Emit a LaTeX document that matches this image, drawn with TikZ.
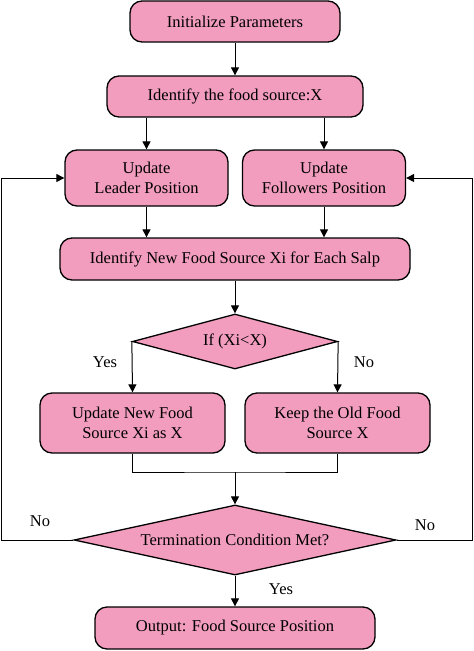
\documentclass[tikz,border=0pt]{standalone}
\usepackage{fontspec}
\setmainfont{Liberation Serif}
\usetikzlibrary{shapes,arrows,positioning,calc,arrows.meta}
\definecolor{salppink}{RGB}{242,157,190}

\begin{document}
\begin{tikzpicture}[x=1pt, y=-1pt,
    box/.style={draw, line width=1.3pt, fill=salppink, rounded corners=12pt, align=center,
        inner sep=0pt, font=\fontsize{16.5}{20}\selectfont},
    decision/.style={draw, line width=1.3pt, fill=salppink, diamond, inner sep=0pt,
        font=\fontsize{16.5}{20}\selectfont},
    arrow/.style={line width=1pt, -{Triangle[width=8pt,length=8pt]}},
    line/.style={line width=1pt},
    lab/.style={font=\fontsize{16.5}{20}\selectfont}]
    \useasboundingbox (0,0) rectangle (474,651);

    % boxes
    \node [box, minimum width=210pt, minimum height=41pt] (init) at (235,21.5) {Initialize Parameters};
    \node [box, minimum width=256pt, minimum height=41pt] (ident) at (235,96.5) {Identify the food source:X};
    \node [box, minimum width=163pt, minimum height=56pt] (leader) at (146.5,178) {Update\\Leader Position};
    \node [box, minimum width=163pt, minimum height=56pt] (follow) at (324,178) {Update\\Followers Position};
    \node [box, minimum width=350pt, minimum height=42pt] (newsrc) at (235,259) {Identify New Food Source Xi for Each Salp};
    \node [decision, shape aspect=3.7, minimum width=205pt, minimum height=55pt] (cond) at (235,341.5) {If (Xi<X)};
    \node [box, minimum width=185pt, minimum height=60pt] (upd) at (132.5,423) {Update New Food\\Source Xi as X};
    \node [box, minimum width=185pt, minimum height=60pt] (keep) at (337.5,423) {Keep the Old Food\\Source X};
    \node [decision, shape aspect=4.6, minimum width=322pt, minimum height=70pt] (term) at (235,540) {Termination Condition Met?};
    \node [box, minimum width=280pt, minimum height=42pt] (out) at (235,628) {Output: Food Source Position};

    % helper points
    \coordinate (merge) at (235,472);
    \coordinate (lloop) at (1,540);
    \coordinate (rloop) at (472.5,540);

    % connectors
    \draw [arrow] (init) -- (ident);
    \draw [arrow] (ident.south -| leader.north) -- (leader.north);
    \draw [arrow] (ident.south -| follow.north) -- (follow.north);
    \draw [arrow] (leader.south) -- (newsrc.north -| leader.south);
    \draw [arrow] (follow.south) -- (newsrc.north -| follow.south);
    \draw [arrow] (newsrc) -- (cond);
    \draw [arrow] (cond.west) -- (upd.north);
    \draw [arrow] (cond.east) -- (keep.north);
    \draw [line] (upd.south) |- (merge) -| (keep.south);
    \draw [arrow] (merge) -- (term.north);
    \draw [arrow] (term.west) -- (lloop) |- (leader.west);
    \draw [arrow] (term.east) -- (rloop) |- (follow.east);
    \draw [arrow] (term) -- (out);

    % labels
    \node [lab] (yes1) at (105,362) {Yes};
    \node [lab] (no1) at (364,362) {No};
    \node [lab] (no2) at (40,521) {No};
    \node [lab] (no3) at (425,525) {No};
    \node [lab] (yes2) at (281,589) {Yes};
\end{tikzpicture}
\end{document}
